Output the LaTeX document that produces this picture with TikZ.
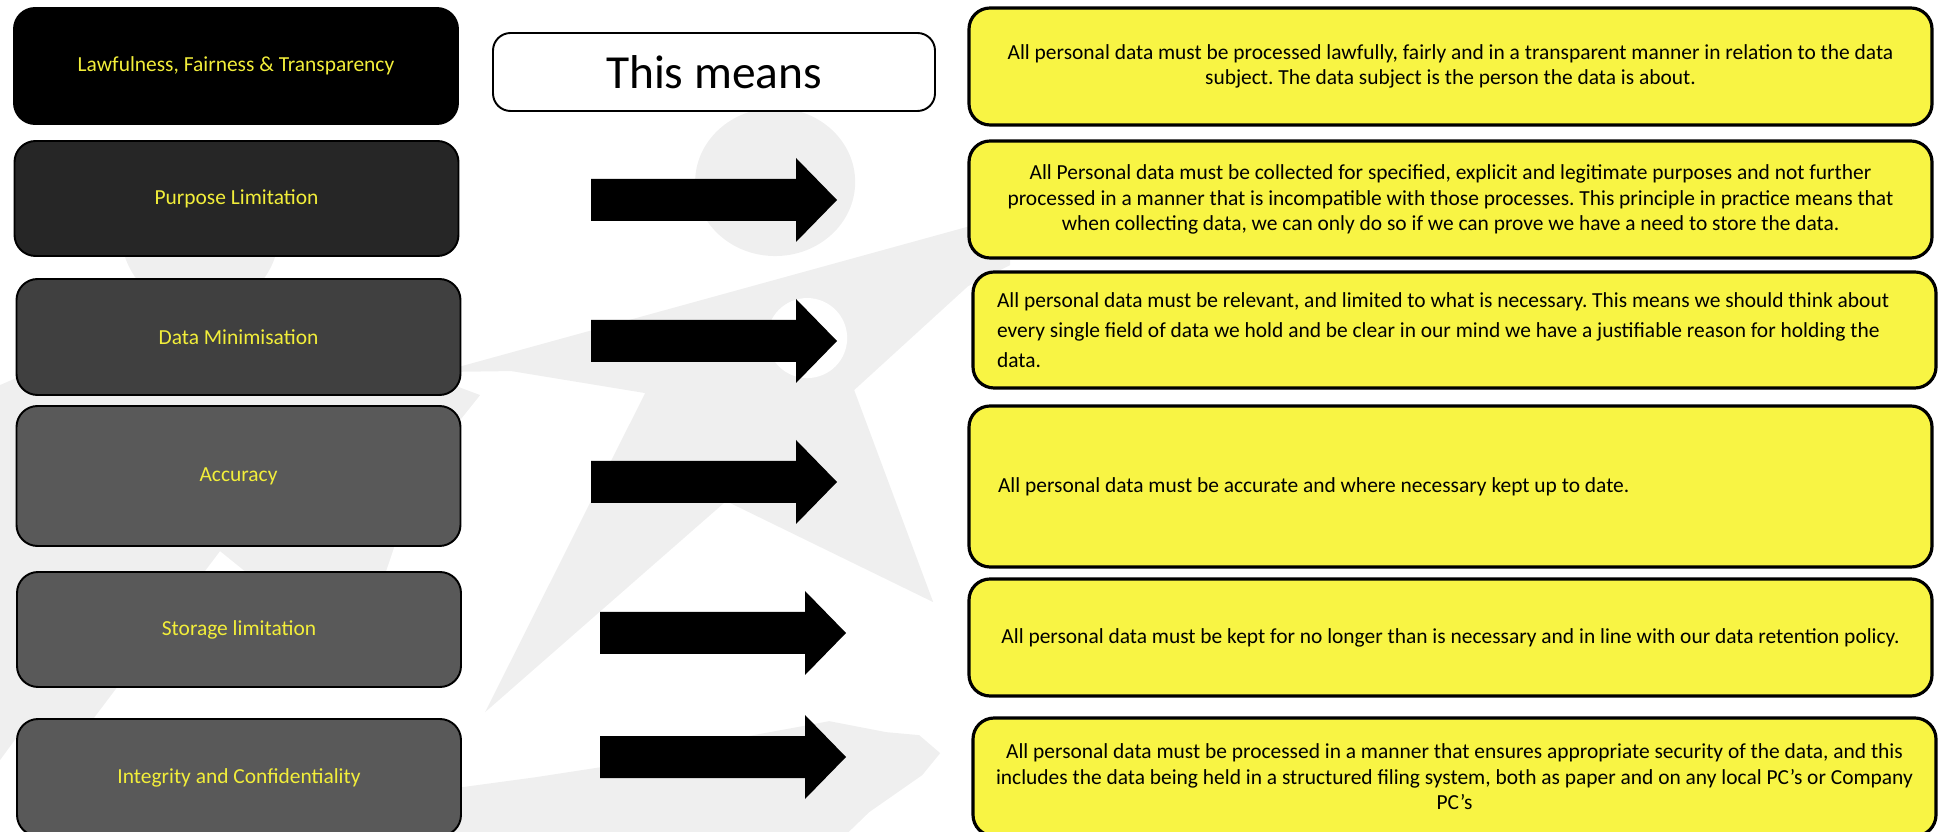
\documentclass[tikz,border=0pt]{standalone}
\usepackage{fontspec}
\setmainfont{Carlito}
\frenchspacing

\definecolor{markgray}{RGB}{239,239,239}
\definecolor{boxyellow}{RGB}{248,244,68}
\definecolor{textyellow}{RGB}{242,238,58}
\definecolor{shadeA}{RGB}{38,38,38}
\definecolor{shadeB}{RGB}{64,64,64}
\definecolor{shadeC}{RGB}{89,89,89}

% block arrow, tail centre at (#1,#2)
\newcommand{\blockarrow}[2]{%
    \fill[black] (#1,#2) ++(0,0.42) -- ++(4.10,0) -- ++(0,0.42) -- ++(0.82,-0.84)
        -- ++(-0.82,-0.84) -- ++(0,0.42) -- ++(-4.10,0) -- cycle;}

\begin{document}
\begin{tikzpicture}[
    principle/.style={draw=black, line width=1.1pt, rounded corners=12pt, text=textyellow,
        font=\fontsize{12.2}{14.5}\selectfont, inner sep=0pt, minimum width=8.88cm},
    meaning/.style={draw=black, line width=1.8pt, fill=boxyellow, rounded corners=12pt,
        font=\fontsize{12.2}{14.5}\selectfont, inner sep=0pt, minimum width=19.26cm, align=center}
]

    % Page frame
    \useasboundingbox (0,0) rectangle (39.08,-16.64);
    \clip (0,0) rectangle (39.08,-16.64);

    % 1. Faint figures in the background (pixel units)
    \begin{scope}[x=0.02cm, y=-0.02cm, markgray]
        % left figure
        \fill (200,232) circle (79);
        \fill (0,385) -- (150,320) -- (280,320) -- (480,395) -- (420,470) -- (383,580)
            -- (330,640) -- (220,551) -- (93,719) -- (30,719) -- (0,760) -- cycle;
        % middle figure
        \fill (775,182) ellipse [x radius=80, y radius=74];
        \fill (440,372) -- (1010,215) -- (1010,265) -- (968,286) -- (854,390) -- (933,602)
            -- (726,501) -- (485,712) -- (645,393) -- (511,371) -- cycle;
        \fill[white] (807,338) ellipse [x radius=40, y radius=40];
        % shadow on the ground
        \fill (440,790) -- (536,777) -- (601,767) -- (726,740) -- (797,727) -- (829,721)
            -- (886,732) -- (919,735) -- (940,753) -- (922,775) -- (869,812) -- (840,840)
            -- (440,840) -- cycle;
    \end{scope}

    % 2. Principles (left column)
    \node[principle, fill=black, minimum height=2.32cm] (LF) at (4.72,-1.32) {Lawfulness, Fairness \& Transparency};
    \node[principle, fill=shadeA, minimum height=2.30cm] (PL) at (4.73,-3.97) {Purpose Limitation};
    \node[principle, fill=shadeB, minimum height=2.32cm] (DM) at (4.77,-6.74) {Data Minimisation};
    \node[principle, fill=shadeC, minimum height=2.80cm] (AC) at (4.77,-9.52) {Accuracy};
    \node[principle, fill=shadeC, minimum height=2.30cm] (SL) at (4.78,-12.59) {Storage limitation};
    \node[principle, fill=shadeC, minimum height=2.34cm] (IC) at (4.78,-15.55) {Integrity and Confidentiality};

    % 3. Heading box
    \node[draw=black, line width=1.1pt, fill=white, rounded corners=10pt, minimum width=8.84cm,
        minimum height=1.56cm, font=\fontsize{27}{32}\selectfont] (TM) at (14.28,-1.44) {This means};

    % 4. Block arrows
    \blockarrow{11.82}{-4.00}
    \blockarrow{11.82}{-6.82}
    \blockarrow{11.82}{-9.64}
    \blockarrow{12.00}{-12.66}
    \blockarrow{12.00}{-15.14}

    % 5. Meanings (right column)
    \node[meaning, minimum height=2.34cm] (LFm) at (29.01,-1.33)
        {All personal data must be processed lawfully, fairly and in a transparent manner in relation to the data\\
         subject. The data subject is the person the data is about.};
    \node[meaning, minimum height=2.34cm] (PLm) at (29.01,-3.99)
        {All Personal data must be collected for specified, explicit and legitimate purposes and not further\\
         processed in a manner that is incompatible with those processes. This principle in practice means that\\
         when collecting data, we can only do so if we can prove we have a need to store the data.};
    \node[meaning, minimum height=2.32cm, align=flush left, text width=18.3cm,
        font=\fontsize{12.2}{17}\selectfont] (DMm) at (29.09,-6.60)
        {All personal data must be relevant, and limited to what is necessary. This means we should think about\\
         every single field of data we hold and be clear in our mind we have a justifiable reason for holding the\\
         data.};
    \node[meaning, minimum height=3.22cm, align=flush left, text width=18.1cm] (ACm) at (29.01,-9.73)
        {All personal data must be accurate and where necessary kept up to date.};
    \node[meaning, minimum height=2.34cm] (SLm) at (29.01,-12.75)
        {All personal data must be kept for no longer than is necessary and in line with our data retention policy.};
    \node[meaning, minimum height=2.36cm] (ICm) at (29.09,-15.54)
        {All personal data must be processed in a manner that ensures appropriate security of the data, and this\\
         includes the data being held in a structured filing system, both as paper and on any local PC’s or Company\\
         PC’s};

\end{tikzpicture}
\end{document}
